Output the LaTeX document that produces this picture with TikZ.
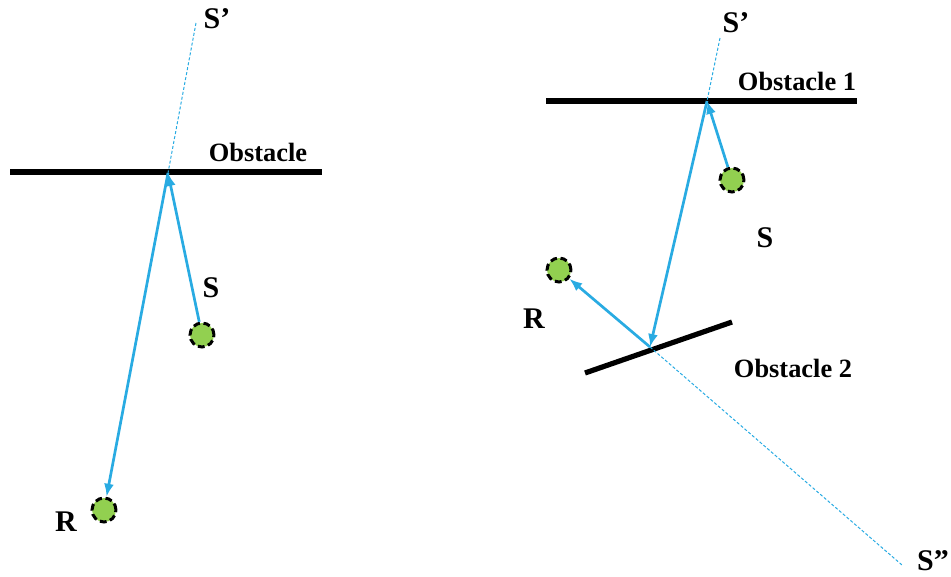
\documentclass[tikz,border=0pt]{standalone}
\usepackage{xcolor}
\usepackage{fontspec}
\setmainfont{Liberation Serif}
\usetikzlibrary{arrows.meta}

\definecolor{rayblue}{RGB}{41,171,226}
\definecolor{dotgreen}{RGB}{146,208,80}

\begin{document}
\begin{tikzpicture}[
x=0.5pt, y=-0.5pt,
>={Latex[length=6.5pt,width=5pt]},
station/.style={
circle,
draw=black,
dash pattern=on 3.4pt off 1.8pt,
line width=1.5pt,
fill=dotgreen,
minimum size=12pt,
inner sep=0pt
},
tag/.style={
font=\bfseries\fontsize{15}{15}\selectfont,
inner sep=0pt
},
obstag/.style={
font=\bfseries\fontsize{13.2}{14}\selectfont,
inner sep=0pt
},
wall/.style={
line width=2.6pt
},
ray/.style={
->,
rayblue,
line width=1.35pt
},
mirror/.style={
rayblue,
line width=0.5pt,
dash pattern=on 1.5pt off 1pt
}
]

\useasboundingbox (0,0) rectangle (951,577);

%%%%%%%%%%%%%%%%%%%%%%%%%%%%%%%%%%%%%%%%%%%%%
% Single reflection
%%%%%%%%%%%%%%%%%%%%%%%%%%%%%%%%%%%%%%%%%%%%%

\coordinate (wallA1) at (10,172);
\coordinate (wallA2) at (322,172);
\coordinate (hitA) at (168,173);
\coordinate (imgA) at (196,23);

\draw[wall] (wallA1)--(wallA2);

\node[station] (srcA) at (202,335) {};
\node[station] (rcvA) at (104,510) {};

\node[tag] (srcAtxt) at (211,288) {S};
\node[tag] (rcvAtxt) at (66,522) {R};
\node[tag] (imgAtxt) at (217,19) {S’};
\node[obstag] (wallAtxt) at (258,152) {Obstacle};

\draw[mirror] (imgA)--(hitA);

\draw[ray] (srcA)--(hitA);

\draw[ray] (hitA)--(rcvA);

%%%%%%%%%%%%%%%%%%%%%%%%%%%%%%%%%%%%%%%%%%%%%
% Double reflection
%%%%%%%%%%%%%%%%%%%%%%%%%%%%%%%%%%%%%%%%%%%%%

\coordinate (wallB1) at (546,101);
\coordinate (wallB2) at (857,101);
\coordinate (wallC1) at (585,373);
\coordinate (wallC2) at (732,322);
\coordinate (hitB) at (707,101);
\coordinate (hitC) at (650,347);
\coordinate (imgB) at (720,38);
\coordinate (imgC) at (902,565);

\draw[wall] (wallB1)--(wallB2);

\draw[wall] (wallC1)--(wallC2);

\node[station] (srcB) at (732,180) {};
\node[station] (rcvB) at (559,270) {};

\node[tag] (srcBtxt) at (765,238) {S};
\node[tag] (rcvBtxt) at (534,319) {R};
\node[tag] (imgBtxt) at (736,23) {S’};
\node[tag] (imgCtxt) at (933,561) {S”};
\node[obstag] (wallBtxt) at (797,81) {Obstacle 1};
\node[obstag] (wallCtxt) at (793,368) {Obstacle 2};

\draw[mirror] (imgB)--(hitB);

\draw[mirror] (hitC)--(imgC);

\draw[ray] (srcB)--(hitB);

\draw[ray] (hitB)--(hitC);

\draw[ray] (hitC)--(rcvB);

\end{tikzpicture}
\end{document}
